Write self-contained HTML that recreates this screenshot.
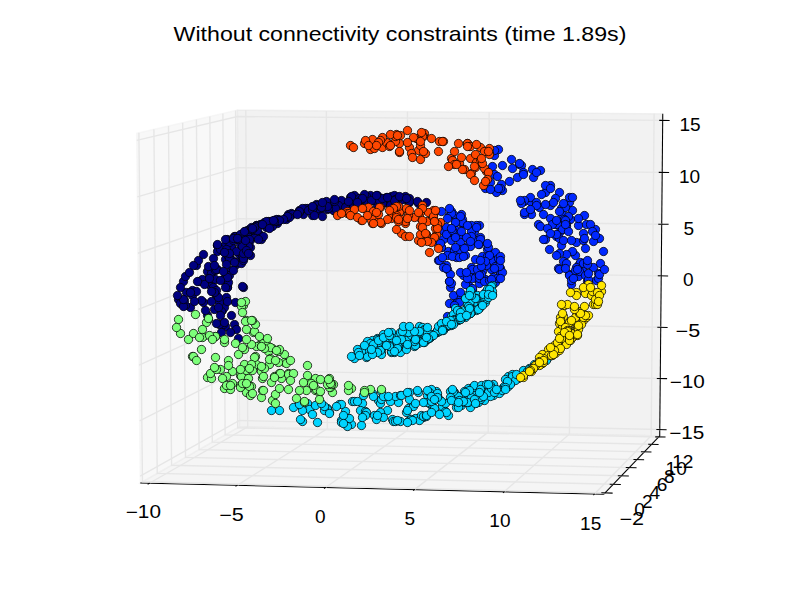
<!DOCTYPE html>
<html><head><meta charset="utf-8"><style>html,body{margin:0;padding:0;background:#fff;width:800px;height:600px;overflow:hidden}svg{display:block}</style></head><body>
<svg width="800" height="600" viewBox="0 0 800 600" font-family="Liberation Sans, sans-serif" font-size="17.6" fill="#000"><polygon points="140.27,483.05 239.47,426.77 237.40,110.12 136.66,133.27" fill="rgb(242,242,242)" fill-opacity="0.5" stroke="rgb(242,242,242)" stroke-opacity="0.5" stroke-width="1.389"/>
<polygon points="239.47,426.77 659.71,435.90 662.76,113.87 237.40,110.12" fill="rgb(230,230,230)" fill-opacity="0.5" stroke="rgb(230,230,230)" stroke-opacity="0.5" stroke-width="1.389"/>
<polygon points="140.27,483.05 603.84,494.23 659.71,435.90 239.47,426.77" fill="rgb(236,236,236)" fill-opacity="0.5" stroke="rgb(236,236,236)" stroke-opacity="0.5" stroke-width="1.389"/>
<line x1="140.27" y1="483.05" x2="603.84" y2="494.23" stroke="#000" stroke-width="1.042"/>
<polyline points="149.37,483.27 247.73,426.95 245.77,110.19" fill="none" stroke="rgb(230,230,230)" stroke-width="1.389"/>
<polyline points="237.10,485.39 327.37,428.68 326.36,110.90" fill="none" stroke="rgb(230,230,230)" stroke-width="1.389"/>
<polyline points="325.46,487.52 407.53,430.42 407.49,111.62" fill="none" stroke="rgb(230,230,230)" stroke-width="1.389"/>
<polyline points="414.46,489.67 488.21,432.17 489.15,112.34" fill="none" stroke="rgb(230,230,230)" stroke-width="1.389"/>
<polyline points="504.10,491.83 569.42,433.94 571.36,113.06" fill="none" stroke="rgb(230,230,230)" stroke-width="1.389"/>
<polyline points="594.40,494.01 651.16,435.71 654.11,113.79" fill="none" stroke="rgb(230,230,230)" stroke-width="1.389"/>
<line x1="150.24" y1="482.77" x2="147.63" y2="484.27" stroke="#000" stroke-width="1.042"/>
<line x1="237.90" y1="484.89" x2="235.50" y2="486.39" stroke="#000" stroke-width="1.042"/>
<line x1="326.18" y1="487.01" x2="324.00" y2="488.53" stroke="#000" stroke-width="1.042"/>
<line x1="415.11" y1="489.16" x2="413.15" y2="490.69" stroke="#000" stroke-width="1.042"/>
<line x1="504.68" y1="491.32" x2="502.94" y2="492.85" stroke="#000" stroke-width="1.042"/>
<line x1="594.90" y1="493.49" x2="593.39" y2="495.04" stroke="#000" stroke-width="1.042"/>
<line x1="659.71" y1="435.90" x2="603.84" y2="494.23" stroke="#000" stroke-width="1.042"/>
<polyline points="138.89,132.76 142.46,481.81 605.07,492.94" fill="none" stroke="rgb(230,230,230)" stroke-width="1.389"/>
<polyline points="153.90,129.31 157.22,473.43 613.40,484.25" fill="none" stroke="rgb(230,230,230)" stroke-width="1.389"/>
<polyline points="168.48,125.96 171.57,465.29 621.49,475.80" fill="none" stroke="rgb(230,230,230)" stroke-width="1.389"/>
<polyline points="182.65,122.70 185.52,457.38 629.35,467.60" fill="none" stroke="rgb(230,230,230)" stroke-width="1.389"/>
<polyline points="196.43,119.53 199.09,449.68 636.99,459.62" fill="none" stroke="rgb(230,230,230)" stroke-width="1.389"/>
<polyline points="209.84,116.45 212.30,442.18 644.43,451.86" fill="none" stroke="rgb(230,230,230)" stroke-width="1.389"/>
<polyline points="222.88,113.45 225.15,434.89 651.66,444.30" fill="none" stroke="rgb(230,230,230)" stroke-width="1.389"/>
<polyline points="235.58,110.54 237.67,427.79 658.70,436.96" fill="none" stroke="rgb(230,230,230)" stroke-width="1.389"/>
<line x1="601.30" y1="492.85" x2="612.62" y2="493.13" stroke="#000" stroke-width="1.042"/>
<line x1="609.68" y1="484.16" x2="620.84" y2="484.43" stroke="#000" stroke-width="1.042"/>
<line x1="617.83" y1="475.72" x2="628.82" y2="475.97" stroke="#000" stroke-width="1.042"/>
<line x1="625.74" y1="467.51" x2="636.58" y2="467.76" stroke="#000" stroke-width="1.042"/>
<line x1="633.43" y1="459.54" x2="644.13" y2="459.78" stroke="#000" stroke-width="1.042"/>
<line x1="640.91" y1="451.78" x2="651.46" y2="452.01" stroke="#000" stroke-width="1.042"/>
<line x1="648.19" y1="444.23" x2="658.60" y2="444.46" stroke="#000" stroke-width="1.042"/>
<line x1="655.27" y1="436.88" x2="665.55" y2="437.10" stroke="#000" stroke-width="1.042"/>
<line x1="659.71" y1="435.90" x2="662.76" y2="113.87" stroke="#000" stroke-width="1.042"/>
<polyline points="659.77,429.54 239.43,420.51 140.20,476.15" fill="none" stroke="rgb(230,230,230)" stroke-width="1.389"/>
<polyline points="660.25,378.51 239.10,370.33 139.63,420.77" fill="none" stroke="rgb(230,230,230)" stroke-width="1.389"/>
<polyline points="660.74,327.29 238.77,319.96 139.05,365.17" fill="none" stroke="rgb(230,230,230)" stroke-width="1.389"/>
<polyline points="661.22,275.87 238.44,269.39 138.48,309.32" fill="none" stroke="rgb(230,230,230)" stroke-width="1.389"/>
<polyline points="661.71,224.24 238.11,218.63 137.90,253.24" fill="none" stroke="rgb(230,230,230)" stroke-width="1.389"/>
<polyline points="662.20,172.42 237.78,167.68 137.32,196.92" fill="none" stroke="rgb(230,230,230)" stroke-width="1.389"/>
<polyline points="662.70,120.39 237.44,116.52 136.73,140.36" fill="none" stroke="rgb(230,230,230)" stroke-width="1.389"/>
<line x1="656.35" y1="429.46" x2="666.61" y2="429.68" stroke="#000" stroke-width="1.042"/>
<line x1="656.82" y1="378.44" x2="667.11" y2="378.64" stroke="#000" stroke-width="1.042"/>
<line x1="657.30" y1="327.23" x2="667.61" y2="327.41" stroke="#000" stroke-width="1.042"/>
<line x1="657.78" y1="275.81" x2="668.11" y2="275.97" stroke="#000" stroke-width="1.042"/>
<line x1="658.27" y1="224.20" x2="668.61" y2="224.33" stroke="#000" stroke-width="1.042"/>
<line x1="658.75" y1="172.38" x2="669.11" y2="172.49" stroke="#000" stroke-width="1.042"/>
<line x1="659.24" y1="120.36" x2="669.62" y2="120.45" stroke="#000" stroke-width="1.042"/>
<g fill="rgb(0,0,128)" stroke="#000" stroke-width="0.750"><circle cx="203.50" cy="302.50" r="4.17"/><circle cx="183.50" cy="281.50" r="4.17"/><circle cx="196.50" cy="265.50" r="4.17"/><circle cx="370.50" cy="196.50" r="4.17"/><circle cx="225.50" cy="326.50" r="4.17"/><circle cx="226.50" cy="286.50" r="4.17"/><circle cx="231.50" cy="315.50" r="4.17"/><circle cx="223.50" cy="251.50" r="4.17"/><circle cx="244.50" cy="247.50" r="4.17"/><circle cx="409.50" cy="198.50" r="4.17"/><circle cx="409.50" cy="202.50" r="4.17"/><circle cx="248.50" cy="237.50" r="4.17"/><circle cx="319.50" cy="210.50" r="4.17"/><circle cx="231.50" cy="270.50" r="4.17"/><circle cx="255.50" cy="229.50" r="4.17"/><circle cx="185.50" cy="276.50" r="4.17"/><circle cx="222.50" cy="310.50" r="4.17"/><circle cx="234.50" cy="236.50" r="4.17"/><circle cx="247.50" cy="230.50" r="4.17"/><circle cx="391.50" cy="196.50" r="4.17"/><circle cx="350.50" cy="197.50" r="4.17"/><circle cx="323.50" cy="203.50" r="4.17"/><circle cx="243.50" cy="287.50" r="4.17"/><circle cx="358.50" cy="198.50" r="4.17"/><circle cx="331.50" cy="205.50" r="4.17"/><circle cx="312.50" cy="207.50" r="4.17"/><circle cx="217.50" cy="245.50" r="4.17"/><circle cx="225.50" cy="245.50" r="4.17"/><circle cx="223.50" cy="324.50" r="4.17"/><circle cx="299.50" cy="210.50" r="4.17"/><circle cx="242.50" cy="286.50" r="4.17"/><circle cx="276.50" cy="220.50" r="4.17"/><circle cx="329.50" cy="203.50" r="4.17"/><circle cx="245.50" cy="231.50" r="4.17"/><circle cx="258.50" cy="225.50" r="4.17"/><circle cx="227.50" cy="285.50" r="4.17"/><circle cx="241.50" cy="250.50" r="4.17"/><circle cx="199.50" cy="281.50" r="4.17"/><circle cx="222.50" cy="304.50" r="4.17"/><circle cx="312.50" cy="215.50" r="4.17"/><circle cx="231.50" cy="246.50" r="4.17"/><circle cx="383.50" cy="203.50" r="4.17"/><circle cx="224.50" cy="307.50" r="4.17"/><circle cx="328.50" cy="203.50" r="4.17"/><circle cx="341.50" cy="200.50" r="4.17"/><circle cx="377.50" cy="205.50" r="4.17"/><circle cx="288.50" cy="214.50" r="4.17"/><circle cx="219.50" cy="324.50" r="4.17"/><circle cx="214.50" cy="309.50" r="4.17"/><circle cx="377.50" cy="195.50" r="4.17"/><circle cx="265.50" cy="224.50" r="4.17"/><circle cx="227.50" cy="239.50" r="4.17"/><circle cx="259.50" cy="234.50" r="4.17"/><circle cx="249.50" cy="231.50" r="4.17"/><circle cx="207.50" cy="271.50" r="4.17"/><circle cx="235.50" cy="236.50" r="4.17"/><circle cx="338.50" cy="206.50" r="4.17"/><circle cx="335.50" cy="211.50" r="4.17"/><circle cx="418.50" cy="203.50" r="4.17"/><circle cx="260.50" cy="224.50" r="4.17"/><circle cx="277.50" cy="223.50" r="4.17"/><circle cx="242.50" cy="254.50" r="4.17"/><circle cx="298.50" cy="212.50" r="4.17"/><circle cx="299.50" cy="211.50" r="4.17"/><circle cx="209.50" cy="284.50" r="4.17"/><circle cx="231.50" cy="247.50" r="4.17"/><circle cx="316.50" cy="204.50" r="4.17"/><circle cx="229.50" cy="255.50" r="4.17"/><circle cx="314.50" cy="209.50" r="4.17"/><circle cx="261.50" cy="239.50" r="4.17"/><circle cx="250.50" cy="240.50" r="4.17"/><circle cx="386.50" cy="197.50" r="4.17"/><circle cx="278.50" cy="219.50" r="4.17"/><circle cx="256.50" cy="229.50" r="4.17"/><circle cx="232.50" cy="260.50" r="4.17"/><circle cx="244.50" cy="253.50" r="4.17"/><circle cx="360.50" cy="200.50" r="4.17"/><circle cx="268.50" cy="221.50" r="4.17"/><circle cx="234.50" cy="324.50" r="4.17"/><circle cx="236.50" cy="264.50" r="4.17"/><circle cx="229.50" cy="275.50" r="4.17"/><circle cx="225.50" cy="259.50" r="4.17"/><circle cx="338.50" cy="205.50" r="4.17"/><circle cx="256.50" cy="225.50" r="4.17"/><circle cx="383.50" cy="200.50" r="4.17"/><circle cx="328.50" cy="207.50" r="4.17"/><circle cx="178.50" cy="299.50" r="4.17"/><circle cx="347.50" cy="205.50" r="4.17"/><circle cx="303.50" cy="214.50" r="4.17"/><circle cx="190.50" cy="307.50" r="4.17"/><circle cx="403.50" cy="199.50" r="4.17"/><circle cx="307.50" cy="208.50" r="4.17"/><circle cx="324.50" cy="205.50" r="4.17"/><circle cx="206.50" cy="283.50" r="4.17"/><circle cx="217.50" cy="245.50" r="4.17"/><circle cx="290.50" cy="214.50" r="4.17"/><circle cx="299.50" cy="212.50" r="4.17"/><circle cx="201.50" cy="300.50" r="4.17"/><circle cx="370.50" cy="195.50" r="4.17"/><circle cx="180.50" cy="303.50" r="4.17"/><circle cx="255.50" cy="228.50" r="4.17"/><circle cx="254.50" cy="231.50" r="4.17"/><circle cx="211.50" cy="273.50" r="4.17"/><circle cx="373.50" cy="200.50" r="4.17"/><circle cx="239.50" cy="254.50" r="4.17"/><circle cx="409.50" cy="201.50" r="4.17"/><circle cx="241.50" cy="252.50" r="4.17"/><circle cx="274.50" cy="220.50" r="4.17"/><circle cx="394.50" cy="195.50" r="4.17"/><circle cx="265.50" cy="225.50" r="4.17"/><circle cx="192.50" cy="290.50" r="4.17"/><circle cx="236.50" cy="251.50" r="4.17"/><circle cx="235.50" cy="302.50" r="4.17"/><circle cx="207.50" cy="283.50" r="4.17"/><circle cx="198.50" cy="260.50" r="4.17"/><circle cx="216.50" cy="295.50" r="4.17"/><circle cx="308.50" cy="209.50" r="4.17"/><circle cx="211.50" cy="286.50" r="4.17"/><circle cx="228.50" cy="256.50" r="4.17"/><circle cx="276.50" cy="219.50" r="4.17"/><circle cx="390.50" cy="205.50" r="4.17"/><circle cx="364.50" cy="206.50" r="4.17"/><circle cx="322.50" cy="205.50" r="4.17"/><circle cx="249.50" cy="229.50" r="4.17"/><circle cx="291.50" cy="213.50" r="4.17"/><circle cx="400.50" cy="200.50" r="4.17"/><circle cx="405.50" cy="196.50" r="4.17"/><circle cx="219.50" cy="302.50" r="4.17"/><circle cx="229.50" cy="242.50" r="4.17"/><circle cx="333.50" cy="210.50" r="4.17"/><circle cx="318.50" cy="208.50" r="4.17"/><circle cx="227.50" cy="287.50" r="4.17"/><circle cx="229.50" cy="259.50" r="4.17"/><circle cx="236.50" cy="329.50" r="4.17"/><circle cx="287.50" cy="216.50" r="4.17"/><circle cx="286.50" cy="219.50" r="4.17"/><circle cx="366.50" cy="196.50" r="4.17"/><circle cx="237.50" cy="262.50" r="4.17"/><circle cx="382.50" cy="203.50" r="4.17"/><circle cx="215.50" cy="270.50" r="4.17"/><circle cx="256.50" cy="225.50" r="4.17"/><circle cx="208.50" cy="266.50" r="4.17"/><circle cx="365.50" cy="200.50" r="4.17"/><circle cx="227.50" cy="287.50" r="4.17"/><circle cx="241.50" cy="263.50" r="4.17"/><circle cx="398.50" cy="198.50" r="4.17"/><circle cx="250.50" cy="247.50" r="4.17"/><circle cx="240.50" cy="235.50" r="4.17"/><circle cx="192.50" cy="295.50" r="4.17"/><circle cx="217.50" cy="251.50" r="4.17"/><circle cx="226.50" cy="297.50" r="4.17"/><circle cx="276.50" cy="221.50" r="4.17"/><circle cx="354.50" cy="195.50" r="4.17"/><circle cx="305.50" cy="208.50" r="4.17"/><circle cx="255.50" cy="236.50" r="4.17"/><circle cx="208.50" cy="278.50" r="4.17"/><circle cx="364.50" cy="194.50" r="4.17"/><circle cx="302.50" cy="208.50" r="4.17"/><circle cx="353.50" cy="205.50" r="4.17"/><circle cx="213.50" cy="258.50" r="4.17"/><circle cx="185.50" cy="305.50" r="4.17"/><circle cx="240.50" cy="234.50" r="4.17"/><circle cx="380.50" cy="198.50" r="4.17"/><circle cx="215.50" cy="279.50" r="4.17"/><circle cx="317.50" cy="205.50" r="4.17"/><circle cx="326.50" cy="201.50" r="4.17"/><circle cx="245.50" cy="254.50" r="4.17"/><circle cx="277.50" cy="221.50" r="4.17"/><circle cx="379.50" cy="200.50" r="4.17"/><circle cx="220.50" cy="249.50" r="4.17"/><circle cx="354.50" cy="200.50" r="4.17"/><circle cx="240.50" cy="244.50" r="4.17"/><circle cx="194.50" cy="301.50" r="4.17"/><circle cx="202.50" cy="279.50" r="4.17"/><circle cx="256.50" cy="226.50" r="4.17"/><circle cx="335.50" cy="208.50" r="4.17"/><circle cx="184.50" cy="300.50" r="4.17"/><circle cx="196.50" cy="291.50" r="4.17"/><circle cx="250.50" cy="255.50" r="4.17"/><circle cx="371.50" cy="200.50" r="4.17"/><circle cx="292.50" cy="214.50" r="4.17"/><circle cx="359.50" cy="198.50" r="4.17"/><circle cx="223.50" cy="279.50" r="4.17"/><circle cx="242.50" cy="257.50" r="4.17"/><circle cx="299.50" cy="211.50" r="4.17"/><circle cx="204.50" cy="284.50" r="4.17"/><circle cx="270.50" cy="221.50" r="4.17"/><circle cx="183.50" cy="306.50" r="4.17"/><circle cx="264.50" cy="222.50" r="4.17"/><circle cx="244.50" cy="231.50" r="4.17"/><circle cx="417.50" cy="201.50" r="4.17"/><circle cx="227.50" cy="301.50" r="4.17"/><circle cx="243.50" cy="260.50" r="4.17"/><circle cx="216.50" cy="323.50" r="4.17"/><circle cx="266.50" cy="227.50" r="4.17"/><circle cx="221.50" cy="311.50" r="4.17"/><circle cx="249.50" cy="239.50" r="4.17"/><circle cx="213.50" cy="287.50" r="4.17"/><circle cx="234.50" cy="262.50" r="4.17"/><circle cx="395.50" cy="203.50" r="4.17"/><circle cx="228.50" cy="282.50" r="4.17"/><circle cx="238.50" cy="338.50" r="4.17"/><circle cx="207.50" cy="315.50" r="4.17"/><circle cx="289.50" cy="217.50" r="4.17"/><circle cx="233.50" cy="240.50" r="4.17"/><circle cx="327.50" cy="209.50" r="4.17"/><circle cx="203.50" cy="254.50" r="4.17"/><circle cx="236.50" cy="238.50" r="4.17"/><circle cx="227.50" cy="277.50" r="4.17"/><circle cx="287.50" cy="216.50" r="4.17"/><circle cx="217.50" cy="269.50" r="4.17"/><circle cx="328.50" cy="208.50" r="4.17"/><circle cx="262.50" cy="224.50" r="4.17"/><circle cx="186.50" cy="292.50" r="4.17"/><circle cx="253.50" cy="230.50" r="4.17"/><circle cx="395.50" cy="199.50" r="4.17"/><circle cx="238.50" cy="238.50" r="4.17"/><circle cx="225.50" cy="239.50" r="4.17"/><circle cx="189.50" cy="272.50" r="4.17"/><circle cx="272.50" cy="226.50" r="4.17"/><circle cx="334.50" cy="201.50" r="4.17"/><circle cx="243.50" cy="258.50" r="4.17"/><circle cx="382.50" cy="198.50" r="4.17"/><circle cx="226.50" cy="249.50" r="4.17"/><circle cx="263.50" cy="236.50" r="4.17"/><circle cx="248.50" cy="246.50" r="4.17"/><circle cx="258.50" cy="239.50" r="4.17"/><circle cx="257.50" cy="230.50" r="4.17"/><circle cx="242.50" cy="246.50" r="4.17"/><circle cx="322.50" cy="216.50" r="4.17"/><circle cx="220.50" cy="280.50" r="4.17"/><circle cx="183.50" cy="299.50" r="4.17"/><circle cx="376.50" cy="195.50" r="4.17"/><circle cx="218.50" cy="307.50" r="4.17"/><circle cx="208.50" cy="319.50" r="4.17"/><circle cx="233.50" cy="238.50" r="4.17"/><circle cx="211.50" cy="301.50" r="4.17"/><circle cx="394.50" cy="200.50" r="4.17"/><circle cx="197.50" cy="281.50" r="4.17"/><circle cx="266.50" cy="221.50" r="4.17"/><circle cx="238.50" cy="239.50" r="4.17"/><circle cx="351.50" cy="196.50" r="4.17"/><circle cx="218.50" cy="297.50" r="4.17"/><circle cx="230.50" cy="332.50" r="4.17"/><circle cx="283.50" cy="219.50" r="4.17"/><circle cx="245.50" cy="240.50" r="4.17"/><circle cx="262.50" cy="224.50" r="4.17"/><circle cx="216.50" cy="269.50" r="4.17"/><circle cx="225.50" cy="287.50" r="4.17"/><circle cx="269.50" cy="228.50" r="4.17"/><circle cx="221.50" cy="332.50" r="4.17"/><circle cx="216.50" cy="290.50" r="4.17"/><circle cx="229.50" cy="253.50" r="4.17"/><circle cx="399.50" cy="196.50" r="4.17"/><circle cx="193.50" cy="265.50" r="4.17"/><circle cx="220.50" cy="315.50" r="4.17"/><circle cx="177.50" cy="295.50" r="4.17"/><circle cx="209.50" cy="278.50" r="4.17"/><circle cx="214.50" cy="292.50" r="4.17"/><circle cx="243.50" cy="253.50" r="4.17"/><circle cx="345.50" cy="207.50" r="4.17"/><circle cx="361.50" cy="199.50" r="4.17"/><circle cx="226.50" cy="264.50" r="4.17"/><circle cx="362.50" cy="198.50" r="4.17"/><circle cx="217.50" cy="244.50" r="4.17"/><circle cx="297.50" cy="214.50" r="4.17"/><circle cx="251.50" cy="227.50" r="4.17"/><circle cx="246.50" cy="250.50" r="4.17"/><circle cx="308.50" cy="210.50" r="4.17"/><circle cx="327.50" cy="206.50" r="4.17"/><circle cx="279.50" cy="220.50" r="4.17"/><circle cx="313.50" cy="207.50" r="4.17"/><circle cx="254.50" cy="227.50" r="4.17"/><circle cx="223.50" cy="271.50" r="4.17"/><circle cx="387.50" cy="197.50" r="4.17"/><circle cx="252.50" cy="229.50" r="4.17"/><circle cx="205.50" cy="310.50" r="4.17"/><circle cx="321.50" cy="207.50" r="4.17"/><circle cx="248.50" cy="253.50" r="4.17"/><circle cx="214.50" cy="265.50" r="4.17"/><circle cx="274.50" cy="221.50" r="4.17"/><circle cx="312.50" cy="209.50" r="4.17"/><circle cx="252.50" cy="228.50" r="4.17"/><circle cx="348.50" cy="201.50" r="4.17"/><circle cx="406.50" cy="198.50" r="4.17"/><circle cx="211.50" cy="291.50" r="4.17"/><circle cx="334.50" cy="199.50" r="4.17"/><circle cx="314.50" cy="215.50" r="4.17"/><circle cx="180.50" cy="287.50" r="4.17"/><circle cx="190.50" cy="292.50" r="4.17"/><circle cx="273.50" cy="220.50" r="4.17"/><circle cx="322.50" cy="202.50" r="4.17"/><circle cx="237.50" cy="238.50" r="4.17"/><circle cx="312.50" cy="206.50" r="4.17"/><circle cx="357.50" cy="202.50" r="4.17"/><circle cx="224.50" cy="252.50" r="4.17"/><circle cx="233.50" cy="270.50" r="4.17"/><circle cx="426.50" cy="202.50" r="4.17"/><circle cx="224.50" cy="322.50" r="4.17"/></g>
<g fill="rgb(0,40,255)" stroke="#000" stroke-width="0.750"><circle cx="569.50" cy="274.50" r="4.17"/><circle cx="463.50" cy="275.50" r="4.17"/><circle cx="482.50" cy="261.50" r="4.17"/><circle cx="438.50" cy="260.50" r="4.17"/><circle cx="479.50" cy="239.50" r="4.17"/><circle cx="545.50" cy="192.50" r="4.17"/><circle cx="539.50" cy="207.50" r="4.17"/><circle cx="442.50" cy="230.50" r="4.17"/><circle cx="485.50" cy="279.50" r="4.17"/><circle cx="582.50" cy="270.50" r="4.17"/><circle cx="482.50" cy="263.50" r="4.17"/><circle cx="448.50" cy="251.50" r="4.17"/><circle cx="462.50" cy="223.50" r="4.17"/><circle cx="456.50" cy="297.50" r="4.17"/><circle cx="483.50" cy="257.50" r="4.17"/><circle cx="524.50" cy="201.50" r="4.17"/><circle cx="476.50" cy="278.50" r="4.17"/><circle cx="519.50" cy="164.50" r="4.17"/><circle cx="543.50" cy="214.50" r="4.17"/><circle cx="441.50" cy="247.50" r="4.17"/><circle cx="449.50" cy="303.50" r="4.17"/><circle cx="500.50" cy="268.50" r="4.17"/><circle cx="561.50" cy="222.50" r="4.17"/><circle cx="450.50" cy="287.50" r="4.17"/><circle cx="479.50" cy="225.50" r="4.17"/><circle cx="495.50" cy="255.50" r="4.17"/><circle cx="494.50" cy="174.50" r="4.17"/><circle cx="439.50" cy="260.50" r="4.17"/><circle cx="596.50" cy="280.50" r="4.17"/><circle cx="579.50" cy="264.50" r="4.17"/><circle cx="570.50" cy="219.50" r="4.17"/><circle cx="575.50" cy="255.50" r="4.17"/><circle cx="530.50" cy="201.50" r="4.17"/><circle cx="587.50" cy="281.50" r="4.17"/><circle cx="482.50" cy="256.50" r="4.17"/><circle cx="491.50" cy="269.50" r="4.17"/><circle cx="458.50" cy="235.50" r="4.17"/><circle cx="461.50" cy="222.50" r="4.17"/><circle cx="560.50" cy="231.50" r="4.17"/><circle cx="494.50" cy="259.50" r="4.17"/><circle cx="474.50" cy="231.50" r="4.17"/><circle cx="561.50" cy="208.50" r="4.17"/><circle cx="569.50" cy="202.50" r="4.17"/><circle cx="572.50" cy="251.50" r="4.17"/><circle cx="475.50" cy="276.50" r="4.17"/><circle cx="494.50" cy="155.50" r="4.17"/><circle cx="456.50" cy="257.50" r="4.17"/><circle cx="451.50" cy="211.50" r="4.17"/><circle cx="541.50" cy="194.50" r="4.17"/><circle cx="556.50" cy="236.50" r="4.17"/><circle cx="572.50" cy="210.50" r="4.17"/><circle cx="530.50" cy="197.50" r="4.17"/><circle cx="472.50" cy="278.50" r="4.17"/><circle cx="502.50" cy="190.50" r="4.17"/><circle cx="538.50" cy="224.50" r="4.17"/><circle cx="555.50" cy="224.50" r="4.17"/><circle cx="532.50" cy="169.50" r="4.17"/><circle cx="595.50" cy="229.50" r="4.17"/><circle cx="462.50" cy="219.50" r="4.17"/><circle cx="494.50" cy="280.50" r="4.17"/><circle cx="490.50" cy="254.50" r="4.17"/><circle cx="599.50" cy="238.50" r="4.17"/><circle cx="578.50" cy="225.50" r="4.17"/><circle cx="521.50" cy="165.50" r="4.17"/><circle cx="453.50" cy="236.50" r="4.17"/><circle cx="586.50" cy="224.50" r="4.17"/><circle cx="449.50" cy="281.50" r="4.17"/><circle cx="545.50" cy="239.50" r="4.17"/><circle cx="566.50" cy="254.50" r="4.17"/><circle cx="598.50" cy="273.50" r="4.17"/><circle cx="561.50" cy="245.50" r="4.17"/><circle cx="462.50" cy="237.50" r="4.17"/><circle cx="447.50" cy="269.50" r="4.17"/><circle cx="558.50" cy="268.50" r="4.17"/><circle cx="499.50" cy="270.50" r="4.17"/><circle cx="451.50" cy="283.50" r="4.17"/><circle cx="485.50" cy="188.50" r="4.17"/><circle cx="476.50" cy="225.50" r="4.17"/><circle cx="509.50" cy="181.50" r="4.17"/><circle cx="530.50" cy="212.50" r="4.17"/><circle cx="500.50" cy="274.50" r="4.17"/><circle cx="562.50" cy="214.50" r="4.17"/><circle cx="580.50" cy="262.50" r="4.17"/><circle cx="455.50" cy="222.50" r="4.17"/><circle cx="449.50" cy="215.50" r="4.17"/><circle cx="566.50" cy="224.50" r="4.17"/><circle cx="495.50" cy="282.50" r="4.17"/><circle cx="460.50" cy="272.50" r="4.17"/><circle cx="454.50" cy="250.50" r="4.17"/><circle cx="568.50" cy="216.50" r="4.17"/><circle cx="479.50" cy="283.50" r="4.17"/><circle cx="457.50" cy="302.50" r="4.17"/><circle cx="471.50" cy="225.50" r="4.17"/><circle cx="584.50" cy="215.50" r="4.17"/><circle cx="491.50" cy="282.50" r="4.17"/><circle cx="450.50" cy="274.50" r="4.17"/><circle cx="559.50" cy="192.50" r="4.17"/><circle cx="479.50" cy="244.50" r="4.17"/><circle cx="487.50" cy="249.50" r="4.17"/><circle cx="583.50" cy="233.50" r="4.17"/><circle cx="456.50" cy="230.50" r="4.17"/><circle cx="468.50" cy="273.50" r="4.17"/><circle cx="441.50" cy="247.50" r="4.17"/><circle cx="498.50" cy="149.50" r="4.17"/><circle cx="447.50" cy="255.50" r="4.17"/><circle cx="524.50" cy="200.50" r="4.17"/><circle cx="469.50" cy="286.50" r="4.17"/><circle cx="455.50" cy="304.50" r="4.17"/><circle cx="480.50" cy="237.50" r="4.17"/><circle cx="490.50" cy="182.50" r="4.17"/><circle cx="465.50" cy="255.50" r="4.17"/><circle cx="540.50" cy="226.50" r="4.17"/><circle cx="497.50" cy="176.50" r="4.17"/><circle cx="487.50" cy="256.50" r="4.17"/><circle cx="453.50" cy="214.50" r="4.17"/><circle cx="550.50" cy="205.50" r="4.17"/><circle cx="576.50" cy="242.50" r="4.17"/><circle cx="523.50" cy="172.50" r="4.17"/><circle cx="566.50" cy="226.50" r="4.17"/><circle cx="585.50" cy="248.50" r="4.17"/><circle cx="451.50" cy="213.50" r="4.17"/><circle cx="588.50" cy="282.50" r="4.17"/><circle cx="472.50" cy="289.50" r="4.17"/><circle cx="461.50" cy="214.50" r="4.17"/><circle cx="482.50" cy="271.50" r="4.17"/><circle cx="557.50" cy="224.50" r="4.17"/><circle cx="578.50" cy="276.50" r="4.17"/><circle cx="563.50" cy="261.50" r="4.17"/><circle cx="562.50" cy="229.50" r="4.17"/><circle cx="441.50" cy="211.50" r="4.17"/><circle cx="491.50" cy="260.50" r="4.17"/><circle cx="536.50" cy="202.50" r="4.17"/><circle cx="471.50" cy="231.50" r="4.17"/><circle cx="475.50" cy="240.50" r="4.17"/><circle cx="559.50" cy="238.50" r="4.17"/><circle cx="593.50" cy="267.50" r="4.17"/><circle cx="577.50" cy="268.50" r="4.17"/><circle cx="566.50" cy="263.50" r="4.17"/><circle cx="536.50" cy="205.50" r="4.17"/><circle cx="533.50" cy="177.50" r="4.17"/><circle cx="488.50" cy="247.50" r="4.17"/><circle cx="457.50" cy="297.50" r="4.17"/><circle cx="472.50" cy="288.50" r="4.17"/><circle cx="443.50" cy="239.50" r="4.17"/><circle cx="568.50" cy="231.50" r="4.17"/><circle cx="479.50" cy="278.50" r="4.17"/><circle cx="559.50" cy="269.50" r="4.17"/><circle cx="480.50" cy="239.50" r="4.17"/><circle cx="462.50" cy="222.50" r="4.17"/><circle cx="486.50" cy="265.50" r="4.17"/><circle cx="571.50" cy="284.50" r="4.17"/><circle cx="481.50" cy="274.50" r="4.17"/><circle cx="495.50" cy="252.50" r="4.17"/><circle cx="550.50" cy="218.50" r="4.17"/><circle cx="498.50" cy="258.50" r="4.17"/><circle cx="452.50" cy="256.50" r="4.17"/><circle cx="460.50" cy="216.50" r="4.17"/><circle cx="500.50" cy="256.50" r="4.17"/><circle cx="598.50" cy="278.50" r="4.17"/><circle cx="552.50" cy="224.50" r="4.17"/><circle cx="565.50" cy="207.50" r="4.17"/><circle cx="459.50" cy="257.50" r="4.17"/><circle cx="576.50" cy="267.50" r="4.17"/><circle cx="493.50" cy="277.50" r="4.17"/><circle cx="543.50" cy="239.50" r="4.17"/><circle cx="496.50" cy="191.50" r="4.17"/><circle cx="447.50" cy="218.50" r="4.17"/><circle cx="495.50" cy="266.50" r="4.17"/><circle cx="569.50" cy="275.50" r="4.17"/><circle cx="471.50" cy="267.50" r="4.17"/><circle cx="438.50" cy="244.50" r="4.17"/><circle cx="579.50" cy="271.50" r="4.17"/><circle cx="519.50" cy="163.50" r="4.17"/><circle cx="521.50" cy="203.50" r="4.17"/><circle cx="585.50" cy="275.50" r="4.17"/><circle cx="588.50" cy="279.50" r="4.17"/><circle cx="465.50" cy="284.50" r="4.17"/><circle cx="440.50" cy="243.50" r="4.17"/><circle cx="492.50" cy="166.50" r="4.17"/><circle cx="531.50" cy="214.50" r="4.17"/><circle cx="478.50" cy="244.50" r="4.17"/><circle cx="590.50" cy="224.50" r="4.17"/><circle cx="502.50" cy="272.50" r="4.17"/><circle cx="489.50" cy="255.50" r="4.17"/><circle cx="575.50" cy="270.50" r="4.17"/><circle cx="447.50" cy="234.50" r="4.17"/><circle cx="484.50" cy="281.50" r="4.17"/><circle cx="467.50" cy="278.50" r="4.17"/><circle cx="501.50" cy="184.50" r="4.17"/><circle cx="583.50" cy="263.50" r="4.17"/><circle cx="485.50" cy="261.50" r="4.17"/><circle cx="578.50" cy="218.50" r="4.17"/><circle cx="496.50" cy="192.50" r="4.17"/><circle cx="571.50" cy="280.50" r="4.17"/><circle cx="563.50" cy="203.50" r="4.17"/><circle cx="559.50" cy="253.50" r="4.17"/><circle cx="549.50" cy="249.50" r="4.17"/><circle cx="446.50" cy="265.50" r="4.17"/><circle cx="559.50" cy="211.50" r="4.17"/><circle cx="511.50" cy="159.50" r="4.17"/><circle cx="517.50" cy="177.50" r="4.17"/><circle cx="471.50" cy="236.50" r="4.17"/><circle cx="446.50" cy="227.50" r="4.17"/><circle cx="583.50" cy="240.50" r="4.17"/><circle cx="550.50" cy="185.50" r="4.17"/><circle cx="446.50" cy="234.50" r="4.17"/><circle cx="478.50" cy="271.50" r="4.17"/><circle cx="499.50" cy="266.50" r="4.17"/><circle cx="472.50" cy="269.50" r="4.17"/><circle cx="452.50" cy="230.50" r="4.17"/><circle cx="512.50" cy="168.50" r="4.17"/><circle cx="500.50" cy="188.50" r="4.17"/><circle cx="497.50" cy="278.50" r="4.17"/><circle cx="500.50" cy="260.50" r="4.17"/><circle cx="592.50" cy="231.50" r="4.17"/><circle cx="545.50" cy="185.50" r="4.17"/><circle cx="475.50" cy="259.50" r="4.17"/><circle cx="498.50" cy="188.50" r="4.17"/><circle cx="573.50" cy="278.50" r="4.17"/><circle cx="584.50" cy="238.50" r="4.17"/><circle cx="489.50" cy="280.50" r="4.17"/><circle cx="460.50" cy="242.50" r="4.17"/><circle cx="447.50" cy="316.50" r="4.17"/><circle cx="443.50" cy="267.50" r="4.17"/><circle cx="556.50" cy="255.50" r="4.17"/><circle cx="524.50" cy="214.50" r="4.17"/><circle cx="451.50" cy="240.50" r="4.17"/><circle cx="569.50" cy="197.50" r="4.17"/><circle cx="545.50" cy="204.50" r="4.17"/><circle cx="593.50" cy="241.50" r="4.17"/><circle cx="540.50" cy="170.50" r="4.17"/><circle cx="524.50" cy="212.50" r="4.17"/><circle cx="565.50" cy="268.50" r="4.17"/><circle cx="455.50" cy="222.50" r="4.17"/><circle cx="603.50" cy="251.50" r="4.17"/><circle cx="572.50" cy="197.50" r="4.17"/><circle cx="457.50" cy="302.50" r="4.17"/><circle cx="466.50" cy="237.50" r="4.17"/><circle cx="490.50" cy="189.50" r="4.17"/><circle cx="577.50" cy="269.50" r="4.17"/><circle cx="477.50" cy="269.50" r="4.17"/><circle cx="595.50" cy="235.50" r="4.17"/><circle cx="449.50" cy="281.50" r="4.17"/><circle cx="563.50" cy="240.50" r="4.17"/><circle cx="451.50" cy="228.50" r="4.17"/><circle cx="467.50" cy="246.50" r="4.17"/><circle cx="556.50" cy="220.50" r="4.17"/><circle cx="599.50" cy="274.50" r="4.17"/><circle cx="459.50" cy="249.50" r="4.17"/><circle cx="564.50" cy="219.50" r="4.17"/><circle cx="556.50" cy="234.50" r="4.17"/><circle cx="467.50" cy="225.50" r="4.17"/><circle cx="479.50" cy="275.50" r="4.17"/><circle cx="500.50" cy="278.50" r="4.17"/><circle cx="547.50" cy="228.50" r="4.17"/><circle cx="470.50" cy="246.50" r="4.17"/><circle cx="466.50" cy="272.50" r="4.17"/><circle cx="520.50" cy="200.50" r="4.17"/><circle cx="470.50" cy="241.50" r="4.17"/><circle cx="481.50" cy="266.50" r="4.17"/><circle cx="459.50" cy="302.50" r="4.17"/><circle cx="565.50" cy="220.50" r="4.17"/><circle cx="494.50" cy="150.50" r="4.17"/><circle cx="588.50" cy="273.50" r="4.17"/><circle cx="550.50" cy="233.50" r="4.17"/><circle cx="502.50" cy="165.50" r="4.17"/><circle cx="587.50" cy="264.50" r="4.17"/><circle cx="536.50" cy="172.50" r="4.17"/><circle cx="550.50" cy="188.50" r="4.17"/><circle cx="491.50" cy="279.50" r="4.17"/><circle cx="555.50" cy="198.50" r="4.17"/><circle cx="454.50" cy="305.50" r="4.17"/><circle cx="494.50" cy="268.50" r="4.17"/><circle cx="553.50" cy="202.50" r="4.17"/><circle cx="455.50" cy="247.50" r="4.17"/><circle cx="449.50" cy="208.50" r="4.17"/><circle cx="565.50" cy="224.50" r="4.17"/><circle cx="476.50" cy="227.50" r="4.17"/><circle cx="600.50" cy="263.50" r="4.17"/><circle cx="604.50" cy="269.50" r="4.17"/><circle cx="587.50" cy="260.50" r="4.17"/><circle cx="487.50" cy="243.50" r="4.17"/><circle cx="523.50" cy="174.50" r="4.17"/><circle cx="461.50" cy="231.50" r="4.17"/><circle cx="453.50" cy="295.50" r="4.17"/><circle cx="530.50" cy="209.50" r="4.17"/><circle cx="460.50" cy="292.50" r="4.17"/><circle cx="446.50" cy="268.50" r="4.17"/><circle cx="455.50" cy="237.50" r="4.17"/><circle cx="463.50" cy="256.50" r="4.17"/><circle cx="571.50" cy="240.50" r="4.17"/><circle cx="442.50" cy="257.50" r="4.17"/><circle cx="480.50" cy="260.50" r="4.17"/><circle cx="464.50" cy="248.50" r="4.17"/></g>
<g fill="rgb(0,212,255)" stroke="#000" stroke-width="0.750"><circle cx="387.50" cy="410.50" r="4.17"/><circle cx="428.50" cy="334.50" r="4.17"/><circle cx="327.50" cy="408.50" r="4.17"/><circle cx="466.50" cy="397.50" r="4.17"/><circle cx="449.50" cy="322.50" r="4.17"/><circle cx="477.50" cy="303.50" r="4.17"/><circle cx="454.50" cy="392.50" r="4.17"/><circle cx="440.50" cy="327.50" r="4.17"/><circle cx="472.50" cy="298.50" r="4.17"/><circle cx="456.50" cy="397.50" r="4.17"/><circle cx="428.50" cy="336.50" r="4.17"/><circle cx="456.50" cy="312.50" r="4.17"/><circle cx="430.50" cy="337.50" r="4.17"/><circle cx="447.50" cy="326.50" r="4.17"/><circle cx="399.50" cy="348.50" r="4.17"/><circle cx="523.50" cy="374.50" r="4.17"/><circle cx="394.50" cy="352.50" r="4.17"/><circle cx="393.50" cy="420.50" r="4.17"/><circle cx="401.50" cy="333.50" r="4.17"/><circle cx="307.50" cy="403.50" r="4.17"/><circle cx="423.50" cy="417.50" r="4.17"/><circle cx="466.50" cy="310.50" r="4.17"/><circle cx="357.50" cy="355.50" r="4.17"/><circle cx="424.50" cy="342.50" r="4.17"/><circle cx="371.50" cy="343.50" r="4.17"/><circle cx="436.50" cy="332.50" r="4.17"/><circle cx="494.50" cy="393.50" r="4.17"/><circle cx="436.50" cy="391.50" r="4.17"/><circle cx="419.50" cy="326.50" r="4.17"/><circle cx="429.50" cy="392.50" r="4.17"/><circle cx="449.50" cy="324.50" r="4.17"/><circle cx="432.50" cy="406.50" r="4.17"/><circle cx="329.50" cy="412.50" r="4.17"/><circle cx="444.50" cy="323.50" r="4.17"/><circle cx="476.50" cy="296.50" r="4.17"/><circle cx="377.50" cy="338.50" r="4.17"/><circle cx="452.50" cy="321.50" r="4.17"/><circle cx="431.50" cy="334.50" r="4.17"/><circle cx="374.50" cy="415.50" r="4.17"/><circle cx="484.50" cy="400.50" r="4.17"/><circle cx="529.50" cy="371.50" r="4.17"/><circle cx="459.50" cy="315.50" r="4.17"/><circle cx="396.50" cy="336.50" r="4.17"/><circle cx="397.50" cy="336.50" r="4.17"/><circle cx="348.50" cy="418.50" r="4.17"/><circle cx="388.50" cy="337.50" r="4.17"/><circle cx="461.50" cy="317.50" r="4.17"/><circle cx="452.50" cy="320.50" r="4.17"/><circle cx="341.50" cy="420.50" r="4.17"/><circle cx="418.50" cy="343.50" r="4.17"/><circle cx="400.50" cy="345.50" r="4.17"/><circle cx="302.50" cy="421.50" r="4.17"/><circle cx="471.50" cy="292.50" r="4.17"/><circle cx="424.50" cy="331.50" r="4.17"/><circle cx="488.50" cy="293.50" r="4.17"/><circle cx="451.50" cy="316.50" r="4.17"/><circle cx="508.50" cy="376.50" r="4.17"/><circle cx="442.50" cy="327.50" r="4.17"/><circle cx="476.50" cy="391.50" r="4.17"/><circle cx="547.50" cy="358.50" r="4.17"/><circle cx="512.50" cy="374.50" r="4.17"/><circle cx="439.50" cy="330.50" r="4.17"/><circle cx="430.50" cy="337.50" r="4.17"/><circle cx="458.50" cy="396.50" r="4.17"/><circle cx="362.50" cy="403.50" r="4.17"/><circle cx="381.50" cy="391.50" r="4.17"/><circle cx="485.50" cy="302.50" r="4.17"/><circle cx="470.50" cy="313.50" r="4.17"/><circle cx="448.50" cy="415.50" r="4.17"/><circle cx="442.50" cy="406.50" r="4.17"/><circle cx="360.50" cy="410.50" r="4.17"/><circle cx="505.50" cy="379.50" r="4.17"/><circle cx="408.50" cy="408.50" r="4.17"/><circle cx="468.50" cy="388.50" r="4.17"/><circle cx="422.50" cy="327.50" r="4.17"/><circle cx="450.50" cy="325.50" r="4.17"/><circle cx="477.50" cy="402.50" r="4.17"/><circle cx="442.50" cy="329.50" r="4.17"/><circle cx="447.50" cy="321.50" r="4.17"/><circle cx="483.50" cy="394.50" r="4.17"/><circle cx="279.50" cy="410.50" r="4.17"/><circle cx="344.50" cy="415.50" r="4.17"/><circle cx="406.50" cy="412.50" r="4.17"/><circle cx="398.50" cy="402.50" r="4.17"/><circle cx="518.50" cy="378.50" r="4.17"/><circle cx="415.50" cy="418.50" r="4.17"/><circle cx="477.50" cy="399.50" r="4.17"/><circle cx="468.50" cy="304.50" r="4.17"/><circle cx="372.50" cy="340.50" r="4.17"/><circle cx="409.50" cy="337.50" r="4.17"/><circle cx="473.50" cy="387.50" r="4.17"/><circle cx="455.50" cy="308.50" r="4.17"/><circle cx="508.50" cy="386.50" r="4.17"/><circle cx="413.50" cy="406.50" r="4.17"/><circle cx="456.50" cy="407.50" r="4.17"/><circle cx="390.50" cy="401.50" r="4.17"/><circle cx="486.50" cy="385.50" r="4.17"/><circle cx="361.50" cy="349.50" r="4.17"/><circle cx="429.50" cy="403.50" r="4.17"/><circle cx="465.50" cy="317.50" r="4.17"/><circle cx="512.50" cy="381.50" r="4.17"/><circle cx="478.50" cy="402.50" r="4.17"/><circle cx="445.50" cy="403.50" r="4.17"/><circle cx="460.50" cy="311.50" r="4.17"/><circle cx="375.50" cy="345.50" r="4.17"/><circle cx="467.50" cy="304.50" r="4.17"/><circle cx="437.50" cy="332.50" r="4.17"/><circle cx="510.50" cy="383.50" r="4.17"/><circle cx="458.50" cy="320.50" r="4.17"/><circle cx="391.50" cy="352.50" r="4.17"/><circle cx="366.50" cy="357.50" r="4.17"/><circle cx="512.50" cy="376.50" r="4.17"/><circle cx="327.50" cy="409.50" r="4.17"/><circle cx="485.50" cy="295.50" r="4.17"/><circle cx="324.50" cy="410.50" r="4.17"/><circle cx="364.50" cy="352.50" r="4.17"/><circle cx="469.50" cy="311.50" r="4.17"/><circle cx="339.50" cy="404.50" r="4.17"/><circle cx="429.50" cy="338.50" r="4.17"/><circle cx="454.50" cy="322.50" r="4.17"/><circle cx="493.50" cy="395.50" r="4.17"/><circle cx="464.50" cy="391.50" r="4.17"/><circle cx="414.50" cy="343.50" r="4.17"/><circle cx="480.50" cy="305.50" r="4.17"/><circle cx="515.50" cy="380.50" r="4.17"/><circle cx="365.50" cy="411.50" r="4.17"/><circle cx="485.50" cy="292.50" r="4.17"/><circle cx="471.50" cy="399.50" r="4.17"/><circle cx="392.50" cy="419.50" r="4.17"/><circle cx="554.50" cy="353.50" r="4.17"/><circle cx="477.50" cy="295.50" r="4.17"/><circle cx="445.50" cy="411.50" r="4.17"/><circle cx="453.50" cy="321.50" r="4.17"/><circle cx="406.50" cy="330.50" r="4.17"/><circle cx="478.50" cy="305.50" r="4.17"/><circle cx="391.50" cy="351.50" r="4.17"/><circle cx="357.50" cy="354.50" r="4.17"/><circle cx="477.50" cy="304.50" r="4.17"/><circle cx="483.50" cy="395.50" r="4.17"/><circle cx="474.50" cy="385.50" r="4.17"/><circle cx="345.50" cy="411.50" r="4.17"/><circle cx="461.50" cy="318.50" r="4.17"/><circle cx="309.50" cy="409.50" r="4.17"/><circle cx="427.50" cy="395.50" r="4.17"/><circle cx="486.50" cy="299.50" r="4.17"/><circle cx="492.50" cy="294.50" r="4.17"/><circle cx="490.50" cy="396.50" r="4.17"/><circle cx="425.50" cy="333.50" r="4.17"/><circle cx="406.50" cy="347.50" r="4.17"/><circle cx="427.50" cy="402.50" r="4.17"/><circle cx="468.50" cy="314.50" r="4.17"/><circle cx="434.50" cy="408.50" r="4.17"/><circle cx="461.50" cy="315.50" r="4.17"/><circle cx="393.50" cy="347.50" r="4.17"/><circle cx="492.50" cy="285.50" r="4.17"/><circle cx="545.50" cy="359.50" r="4.17"/><circle cx="440.50" cy="400.50" r="4.17"/><circle cx="455.50" cy="401.50" r="4.17"/><circle cx="414.50" cy="339.50" r="4.17"/><circle cx="461.50" cy="318.50" r="4.17"/><circle cx="418.50" cy="392.50" r="4.17"/><circle cx="406.50" cy="338.50" r="4.17"/><circle cx="470.50" cy="313.50" r="4.17"/><circle cx="408.50" cy="421.50" r="4.17"/><circle cx="411.50" cy="342.50" r="4.17"/><circle cx="376.50" cy="342.50" r="4.17"/><circle cx="510.50" cy="384.50" r="4.17"/><circle cx="475.50" cy="403.50" r="4.17"/><circle cx="459.50" cy="319.50" r="4.17"/><circle cx="446.50" cy="412.50" r="4.17"/><circle cx="441.50" cy="401.50" r="4.17"/><circle cx="442.50" cy="326.50" r="4.17"/><circle cx="483.50" cy="299.50" r="4.17"/><circle cx="450.50" cy="391.50" r="4.17"/><circle cx="424.50" cy="329.50" r="4.17"/><circle cx="503.50" cy="387.50" r="4.17"/><circle cx="451.50" cy="325.50" r="4.17"/><circle cx="481.50" cy="385.50" r="4.17"/><circle cx="493.50" cy="384.50" r="4.17"/><circle cx="469.50" cy="396.50" r="4.17"/><circle cx="490.50" cy="385.50" r="4.17"/><circle cx="486.50" cy="384.50" r="4.17"/><circle cx="378.50" cy="400.50" r="4.17"/><circle cx="437.50" cy="395.50" r="4.17"/><circle cx="423.50" cy="337.50" r="4.17"/><circle cx="480.50" cy="399.50" r="4.17"/><circle cx="352.50" cy="401.50" r="4.17"/><circle cx="381.50" cy="351.50" r="4.17"/><circle cx="385.50" cy="345.50" r="4.17"/><circle cx="380.50" cy="403.50" r="4.17"/><circle cx="444.50" cy="328.50" r="4.17"/><circle cx="444.50" cy="327.50" r="4.17"/><circle cx="534.50" cy="364.50" r="4.17"/><circle cx="302.50" cy="410.50" r="4.17"/><circle cx="453.50" cy="314.50" r="4.17"/><circle cx="469.50" cy="399.50" r="4.17"/><circle cx="400.50" cy="352.50" r="4.17"/><circle cx="428.50" cy="338.50" r="4.17"/><circle cx="410.50" cy="330.50" r="4.17"/><circle cx="317.50" cy="422.50" r="4.17"/><circle cx="470.50" cy="407.50" r="4.17"/><circle cx="488.50" cy="392.50" r="4.17"/><circle cx="466.50" cy="312.50" r="4.17"/><circle cx="499.50" cy="393.50" r="4.17"/><circle cx="477.50" cy="304.50" r="4.17"/><circle cx="423.50" cy="402.50" r="4.17"/><circle cx="431.50" cy="389.50" r="4.17"/><circle cx="406.50" cy="346.50" r="4.17"/><circle cx="312.50" cy="414.50" r="4.17"/><circle cx="397.50" cy="348.50" r="4.17"/><circle cx="417.50" cy="390.50" r="4.17"/><circle cx="381.50" cy="399.50" r="4.17"/><circle cx="477.50" cy="302.50" r="4.17"/><circle cx="472.50" cy="310.50" r="4.17"/><circle cx="436.50" cy="332.50" r="4.17"/><circle cx="351.50" cy="424.50" r="4.17"/><circle cx="429.50" cy="392.50" r="4.17"/><circle cx="432.50" cy="397.50" r="4.17"/><circle cx="427.50" cy="390.50" r="4.17"/><circle cx="487.50" cy="289.50" r="4.17"/><circle cx="546.50" cy="360.50" r="4.17"/><circle cx="439.50" cy="331.50" r="4.17"/><circle cx="366.50" cy="412.50" r="4.17"/><circle cx="439.50" cy="329.50" r="4.17"/><circle cx="391.50" cy="332.50" r="4.17"/><circle cx="393.50" cy="421.50" r="4.17"/><circle cx="395.50" cy="396.50" r="4.17"/><circle cx="476.50" cy="310.50" r="4.17"/><circle cx="406.50" cy="340.50" r="4.17"/><circle cx="453.50" cy="391.50" r="4.17"/><circle cx="418.50" cy="333.50" r="4.17"/><circle cx="480.50" cy="389.50" r="4.17"/><circle cx="392.50" cy="344.50" r="4.17"/><circle cx="460.50" cy="319.50" r="4.17"/><circle cx="395.50" cy="421.50" r="4.17"/><circle cx="465.50" cy="312.50" r="4.17"/><circle cx="419.50" cy="420.50" r="4.17"/><circle cx="441.50" cy="327.50" r="4.17"/><circle cx="329.50" cy="413.50" r="4.17"/><circle cx="470.50" cy="301.50" r="4.17"/><circle cx="397.50" cy="343.50" r="4.17"/><circle cx="380.50" cy="412.50" r="4.17"/><circle cx="446.50" cy="326.50" r="4.17"/><circle cx="504.50" cy="386.50" r="4.17"/><circle cx="450.50" cy="397.50" r="4.17"/><circle cx="423.50" cy="336.50" r="4.17"/><circle cx="411.50" cy="335.50" r="4.17"/><circle cx="491.50" cy="286.50" r="4.17"/><circle cx="416.50" cy="338.50" r="4.17"/><circle cx="468.50" cy="402.50" r="4.17"/><circle cx="383.50" cy="417.50" r="4.17"/><circle cx="381.50" cy="354.50" r="4.17"/><circle cx="407.50" cy="410.50" r="4.17"/><circle cx="461.50" cy="405.50" r="4.17"/><circle cx="271.50" cy="410.50" r="4.17"/><circle cx="421.50" cy="415.50" r="4.17"/><circle cx="293.50" cy="407.50" r="4.17"/><circle cx="367.50" cy="341.50" r="4.17"/><circle cx="424.50" cy="338.50" r="4.17"/><circle cx="446.50" cy="324.50" r="4.17"/><circle cx="414.50" cy="346.50" r="4.17"/><circle cx="397.50" cy="348.50" r="4.17"/><circle cx="416.50" cy="341.50" r="4.17"/><circle cx="423.50" cy="416.50" r="4.17"/><circle cx="418.50" cy="341.50" r="4.17"/><circle cx="386.50" cy="341.50" r="4.17"/><circle cx="380.50" cy="350.50" r="4.17"/><circle cx="411.50" cy="419.50" r="4.17"/><circle cx="520.50" cy="375.50" r="4.17"/><circle cx="400.50" cy="421.50" r="4.17"/><circle cx="484.50" cy="296.50" r="4.17"/><circle cx="468.50" cy="309.50" r="4.17"/><circle cx="472.50" cy="310.50" r="4.17"/><circle cx="377.50" cy="339.50" r="4.17"/><circle cx="426.50" cy="416.50" r="4.17"/><circle cx="492.50" cy="291.50" r="4.17"/><circle cx="450.50" cy="322.50" r="4.17"/><circle cx="454.50" cy="319.50" r="4.17"/><circle cx="456.50" cy="319.50" r="4.17"/><circle cx="365.50" cy="415.50" r="4.17"/><circle cx="475.50" cy="399.50" r="4.17"/><circle cx="476.50" cy="298.50" r="4.17"/><circle cx="400.50" cy="332.50" r="4.17"/><circle cx="392.50" cy="338.50" r="4.17"/><circle cx="409.50" cy="392.50" r="4.17"/><circle cx="507.50" cy="381.50" r="4.17"/><circle cx="437.50" cy="330.50" r="4.17"/><circle cx="347.50" cy="426.50" r="4.17"/><circle cx="409.50" cy="399.50" r="4.17"/><circle cx="358.50" cy="355.50" r="4.17"/><circle cx="480.50" cy="397.50" r="4.17"/><circle cx="438.50" cy="326.50" r="4.17"/><circle cx="341.50" cy="422.50" r="4.17"/><circle cx="383.50" cy="396.50" r="4.17"/><circle cx="354.50" cy="358.50" r="4.17"/><circle cx="389.50" cy="345.50" r="4.17"/><circle cx="415.50" cy="345.50" r="4.17"/><circle cx="483.50" cy="294.50" r="4.17"/><circle cx="447.50" cy="325.50" r="4.17"/><circle cx="389.50" cy="346.50" r="4.17"/><circle cx="400.50" cy="395.50" r="4.17"/><circle cx="483.50" cy="396.50" r="4.17"/><circle cx="437.50" cy="393.50" r="4.17"/><circle cx="341.50" cy="404.50" r="4.17"/><circle cx="324.50" cy="406.50" r="4.17"/><circle cx="367.50" cy="356.50" r="4.17"/><circle cx="315.50" cy="405.50" r="4.17"/><circle cx="300.50" cy="419.50" r="4.17"/><circle cx="408.50" cy="332.50" r="4.17"/><circle cx="441.50" cy="323.50" r="4.17"/><circle cx="481.50" cy="305.50" r="4.17"/><circle cx="475.50" cy="298.50" r="4.17"/><circle cx="424.50" cy="330.50" r="4.17"/><circle cx="463.50" cy="311.50" r="4.17"/><circle cx="454.50" cy="320.50" r="4.17"/><circle cx="382.50" cy="341.50" r="4.17"/><circle cx="488.50" cy="297.50" r="4.17"/><circle cx="364.50" cy="349.50" r="4.17"/><circle cx="471.50" cy="397.50" r="4.17"/><circle cx="460.50" cy="318.50" r="4.17"/><circle cx="386.50" cy="345.50" r="4.17"/><circle cx="529.50" cy="368.50" r="4.17"/><circle cx="351.50" cy="356.50" r="4.17"/><circle cx="431.50" cy="334.50" r="4.17"/><circle cx="415.50" cy="403.50" r="4.17"/><circle cx="479.50" cy="308.50" r="4.17"/><circle cx="426.50" cy="415.50" r="4.17"/><circle cx="361.50" cy="351.50" r="4.17"/><circle cx="425.50" cy="336.50" r="4.17"/><circle cx="471.50" cy="295.50" r="4.17"/><circle cx="394.50" cy="351.50" r="4.17"/><circle cx="427.50" cy="333.50" r="4.17"/><circle cx="464.50" cy="313.50" r="4.17"/><circle cx="357.50" cy="349.50" r="4.17"/><circle cx="520.50" cy="376.50" r="4.17"/><circle cx="462.50" cy="312.50" r="4.17"/><circle cx="471.50" cy="312.50" r="4.17"/><circle cx="299.50" cy="404.50" r="4.17"/><circle cx="470.50" cy="313.50" r="4.17"/><circle cx="363.50" cy="395.50" r="4.17"/><circle cx="431.50" cy="401.50" r="4.17"/><circle cx="450.50" cy="320.50" r="4.17"/><circle cx="431.50" cy="396.50" r="4.17"/><circle cx="349.50" cy="418.50" r="4.17"/><circle cx="502.50" cy="390.50" r="4.17"/><circle cx="401.50" cy="395.50" r="4.17"/><circle cx="457.50" cy="310.50" r="4.17"/><circle cx="377.50" cy="352.50" r="4.17"/><circle cx="372.50" cy="393.50" r="4.17"/><circle cx="460.50" cy="319.50" r="4.17"/><circle cx="354.50" cy="401.50" r="4.17"/><circle cx="459.50" cy="400.50" r="4.17"/><circle cx="415.50" cy="338.50" r="4.17"/><circle cx="453.50" cy="324.50" r="4.17"/><circle cx="443.50" cy="330.50" r="4.17"/><circle cx="463.50" cy="402.50" r="4.17"/><circle cx="407.50" cy="392.50" r="4.17"/><circle cx="491.50" cy="388.50" r="4.17"/><circle cx="467.50" cy="312.50" r="4.17"/><circle cx="429.50" cy="337.50" r="4.17"/><circle cx="459.50" cy="317.50" r="4.17"/><circle cx="488.50" cy="384.50" r="4.17"/><circle cx="494.50" cy="392.50" r="4.17"/><circle cx="431.50" cy="412.50" r="4.17"/><circle cx="358.50" cy="352.50" r="4.17"/><circle cx="419.50" cy="331.50" r="4.17"/><circle cx="468.50" cy="294.50" r="4.17"/><circle cx="414.50" cy="341.50" r="4.17"/><circle cx="401.50" cy="339.50" r="4.17"/><circle cx="505.50" cy="387.50" r="4.17"/><circle cx="464.50" cy="310.50" r="4.17"/><circle cx="370.50" cy="343.50" r="4.17"/><circle cx="467.50" cy="402.50" r="4.17"/><circle cx="373.50" cy="396.50" r="4.17"/><circle cx="535.50" cy="365.50" r="4.17"/><circle cx="406.50" cy="349.50" r="4.17"/><circle cx="442.50" cy="329.50" r="4.17"/><circle cx="412.50" cy="420.50" r="4.17"/><circle cx="378.50" cy="342.50" r="4.17"/><circle cx="427.50" cy="327.50" r="4.17"/><circle cx="523.50" cy="370.50" r="4.17"/><circle cx="407.50" cy="422.50" r="4.17"/><circle cx="357.50" cy="401.50" r="4.17"/><circle cx="433.50" cy="335.50" r="4.17"/><circle cx="458.50" cy="407.50" r="4.17"/><circle cx="479.50" cy="392.50" r="4.17"/><circle cx="460.50" cy="312.50" r="4.17"/><circle cx="489.50" cy="289.50" r="4.17"/><circle cx="383.50" cy="334.50" r="4.17"/><circle cx="439.50" cy="414.50" r="4.17"/><circle cx="402.50" cy="331.50" r="4.17"/><circle cx="403.50" cy="326.50" r="4.17"/><circle cx="496.50" cy="389.50" r="4.17"/><circle cx="373.50" cy="344.50" r="4.17"/><circle cx="372.50" cy="354.50" r="4.17"/><circle cx="361.50" cy="425.50" r="4.17"/><circle cx="362.50" cy="417.50" r="4.17"/><circle cx="397.50" cy="420.50" r="4.17"/><circle cx="465.50" cy="298.50" r="4.17"/><circle cx="378.50" cy="340.50" r="4.17"/><circle cx="442.50" cy="330.50" r="4.17"/><circle cx="527.50" cy="371.50" r="4.17"/><circle cx="415.50" cy="339.50" r="4.17"/><circle cx="383.50" cy="337.50" r="4.17"/><circle cx="376.50" cy="419.50" r="4.17"/><circle cx="446.50" cy="321.50" r="4.17"/><circle cx="396.50" cy="340.50" r="4.17"/><circle cx="516.50" cy="374.50" r="4.17"/><circle cx="451.50" cy="324.50" r="4.17"/><circle cx="474.50" cy="399.50" r="4.17"/><circle cx="407.50" cy="344.50" r="4.17"/><circle cx="468.50" cy="306.50" r="4.17"/><circle cx="389.50" cy="335.50" r="4.17"/><circle cx="414.50" cy="331.50" r="4.17"/><circle cx="451.50" cy="400.50" r="4.17"/><circle cx="470.50" cy="290.50" r="4.17"/><circle cx="321.50" cy="403.50" r="4.17"/><circle cx="478.50" cy="309.50" r="4.17"/><circle cx="427.50" cy="339.50" r="4.17"/><circle cx="469.50" cy="390.50" r="4.17"/><circle cx="452.50" cy="389.50" r="4.17"/><circle cx="469.50" cy="295.50" r="4.17"/><circle cx="343.50" cy="415.50" r="4.17"/><circle cx="437.50" cy="397.50" r="4.17"/><circle cx="388.50" cy="396.50" r="4.17"/><circle cx="529.50" cy="369.50" r="4.17"/><circle cx="364.50" cy="345.50" r="4.17"/><circle cx="343.50" cy="423.50" r="4.17"/><circle cx="371.50" cy="349.50" r="4.17"/><circle cx="488.50" cy="294.50" r="4.17"/><circle cx="434.50" cy="399.50" r="4.17"/><circle cx="428.50" cy="338.50" r="4.17"/><circle cx="469.50" cy="308.50" r="4.17"/><circle cx="423.50" cy="342.50" r="4.17"/><circle cx="359.50" cy="355.50" r="4.17"/><circle cx="463.50" cy="401.50" r="4.17"/><circle cx="492.50" cy="295.50" r="4.17"/><circle cx="475.50" cy="403.50" r="4.17"/><circle cx="377.50" cy="415.50" r="4.17"/><circle cx="336.50" cy="406.50" r="4.17"/><circle cx="460.50" cy="317.50" r="4.17"/><circle cx="466.50" cy="315.50" r="4.17"/><circle cx="426.50" cy="337.50" r="4.17"/><circle cx="409.50" cy="326.50" r="4.17"/><circle cx="388.50" cy="332.50" r="4.17"/><circle cx="458.50" cy="402.50" r="4.17"/><circle cx="505.50" cy="389.50" r="4.17"/><circle cx="482.50" cy="305.50" r="4.17"/><circle cx="465.50" cy="392.50" r="4.17"/></g>
<g fill="rgb(125,255,122)" stroke="#000" stroke-width="0.750"><circle cx="306.50" cy="390.50" r="4.17"/><circle cx="224.50" cy="388.50" r="4.17"/><circle cx="240.50" cy="385.50" r="4.17"/><circle cx="243.50" cy="305.50" r="4.17"/><circle cx="271.50" cy="382.50" r="4.17"/><circle cx="215.50" cy="336.50" r="4.17"/><circle cx="309.50" cy="379.50" r="4.17"/><circle cx="246.50" cy="392.50" r="4.17"/><circle cx="272.50" cy="400.50" r="4.17"/><circle cx="240.50" cy="375.50" r="4.17"/><circle cx="272.50" cy="348.50" r="4.17"/><circle cx="304.50" cy="402.50" r="4.17"/><circle cx="241.50" cy="306.50" r="4.17"/><circle cx="207.50" cy="377.50" r="4.17"/><circle cx="332.50" cy="392.50" r="4.17"/><circle cx="242.50" cy="312.50" r="4.17"/><circle cx="192.50" cy="356.50" r="4.17"/><circle cx="178.50" cy="319.50" r="4.17"/><circle cx="333.50" cy="384.50" r="4.17"/><circle cx="244.50" cy="364.50" r="4.17"/><circle cx="188.50" cy="339.50" r="4.17"/><circle cx="330.50" cy="387.50" r="4.17"/><circle cx="195.50" cy="314.50" r="4.17"/><circle cx="288.50" cy="389.50" r="4.17"/><circle cx="250.50" cy="395.50" r="4.17"/><circle cx="261.50" cy="397.50" r="4.17"/><circle cx="281.50" cy="378.50" r="4.17"/><circle cx="232.50" cy="371.50" r="4.17"/><circle cx="315.50" cy="390.50" r="4.17"/><circle cx="269.50" cy="364.50" r="4.17"/><circle cx="193.50" cy="333.50" r="4.17"/><circle cx="253.50" cy="332.50" r="4.17"/><circle cx="351.50" cy="388.50" r="4.17"/><circle cx="307.50" cy="365.50" r="4.17"/><circle cx="260.50" cy="366.50" r="4.17"/><circle cx="288.50" cy="373.50" r="4.17"/><circle cx="275.50" cy="394.50" r="4.17"/><circle cx="255.50" cy="356.50" r="4.17"/><circle cx="206.50" cy="322.50" r="4.17"/><circle cx="329.50" cy="387.50" r="4.17"/><circle cx="215.50" cy="336.50" r="4.17"/><circle cx="319.50" cy="392.50" r="4.17"/><circle cx="288.50" cy="374.50" r="4.17"/><circle cx="230.50" cy="389.50" r="4.17"/><circle cx="327.50" cy="384.50" r="4.17"/><circle cx="241.50" cy="376.50" r="4.17"/><circle cx="259.50" cy="345.50" r="4.17"/><circle cx="246.50" cy="370.50" r="4.17"/><circle cx="180.50" cy="333.50" r="4.17"/><circle cx="261.50" cy="371.50" r="4.17"/><circle cx="284.50" cy="354.50" r="4.17"/><circle cx="247.50" cy="383.50" r="4.17"/><circle cx="262.50" cy="390.50" r="4.17"/><circle cx="262.50" cy="378.50" r="4.17"/><circle cx="254.50" cy="331.50" r="4.17"/><circle cx="255.50" cy="324.50" r="4.17"/><circle cx="256.50" cy="346.50" r="4.17"/><circle cx="251.50" cy="344.50" r="4.17"/><circle cx="193.50" cy="356.50" r="4.17"/><circle cx="228.50" cy="360.50" r="4.17"/><circle cx="240.50" cy="369.50" r="4.17"/><circle cx="299.50" cy="390.50" r="4.17"/><circle cx="268.50" cy="351.50" r="4.17"/><circle cx="259.50" cy="336.50" r="4.17"/><circle cx="246.50" cy="339.50" r="4.17"/><circle cx="307.50" cy="375.50" r="4.17"/><circle cx="284.50" cy="362.50" r="4.17"/><circle cx="261.50" cy="346.50" r="4.17"/><circle cx="201.50" cy="349.50" r="4.17"/><circle cx="264.50" cy="368.50" r="4.17"/><circle cx="304.50" cy="401.50" r="4.17"/><circle cx="270.50" cy="358.50" r="4.17"/><circle cx="274.50" cy="376.50" r="4.17"/><circle cx="370.50" cy="389.50" r="4.17"/><circle cx="286.50" cy="363.50" r="4.17"/><circle cx="263.50" cy="343.50" r="4.17"/><circle cx="240.50" cy="387.50" r="4.17"/><circle cx="215.50" cy="357.50" r="4.17"/><circle cx="348.50" cy="390.50" r="4.17"/><circle cx="228.50" cy="365.50" r="4.17"/><circle cx="211.50" cy="378.50" r="4.17"/><circle cx="256.50" cy="364.50" r="4.17"/><circle cx="226.50" cy="376.50" r="4.17"/><circle cx="290.50" cy="360.50" r="4.17"/><circle cx="313.50" cy="384.50" r="4.17"/><circle cx="315.50" cy="378.50" r="4.17"/><circle cx="232.50" cy="383.50" r="4.17"/><circle cx="254.50" cy="357.50" r="4.17"/><circle cx="316.50" cy="389.50" r="4.17"/><circle cx="267.50" cy="345.50" r="4.17"/><circle cx="245.50" cy="301.50" r="4.17"/><circle cx="241.50" cy="302.50" r="4.17"/><circle cx="261.50" cy="366.50" r="4.17"/><circle cx="311.50" cy="383.50" r="4.17"/><circle cx="246.50" cy="320.50" r="4.17"/><circle cx="252.50" cy="370.50" r="4.17"/><circle cx="279.50" cy="373.50" r="4.17"/><circle cx="319.50" cy="399.50" r="4.17"/><circle cx="244.50" cy="349.50" r="4.17"/><circle cx="320.50" cy="379.50" r="4.17"/><circle cx="203.50" cy="336.50" r="4.17"/><circle cx="331.50" cy="384.50" r="4.17"/><circle cx="263.50" cy="390.50" r="4.17"/><circle cx="348.50" cy="385.50" r="4.17"/><circle cx="330.50" cy="383.50" r="4.17"/><circle cx="242.50" cy="383.50" r="4.17"/><circle cx="238.50" cy="354.50" r="4.17"/><circle cx="251.50" cy="386.50" r="4.17"/><circle cx="278.50" cy="351.50" r="4.17"/><circle cx="249.50" cy="386.50" r="4.17"/><circle cx="293.50" cy="373.50" r="4.17"/><circle cx="202.50" cy="329.50" r="4.17"/><circle cx="364.50" cy="390.50" r="4.17"/><circle cx="303.50" cy="382.50" r="4.17"/><circle cx="320.50" cy="391.50" r="4.17"/><circle cx="270.50" cy="347.50" r="4.17"/><circle cx="264.50" cy="348.50" r="4.17"/><circle cx="235.50" cy="343.50" r="4.17"/><circle cx="263.50" cy="376.50" r="4.17"/><circle cx="224.50" cy="342.50" r="4.17"/><circle cx="176.50" cy="327.50" r="4.17"/><circle cx="242.50" cy="347.50" r="4.17"/><circle cx="252.50" cy="320.50" r="4.17"/><circle cx="279.50" cy="349.50" r="4.17"/><circle cx="222.50" cy="378.50" r="4.17"/><circle cx="381.50" cy="389.50" r="4.17"/><circle cx="276.50" cy="350.50" r="4.17"/><circle cx="252.50" cy="393.50" r="4.17"/><circle cx="290.50" cy="380.50" r="4.17"/><circle cx="251.50" cy="364.50" r="4.17"/><circle cx="279.50" cy="388.50" r="4.17"/><circle cx="208.50" cy="318.50" r="4.17"/><circle cx="224.50" cy="339.50" r="4.17"/><circle cx="267.50" cy="338.50" r="4.17"/><circle cx="220.50" cy="369.50" r="4.17"/><circle cx="202.50" cy="337.50" r="4.17"/><circle cx="226.50" cy="385.50" r="4.17"/><circle cx="280.50" cy="373.50" r="4.17"/><circle cx="269.50" cy="359.50" r="4.17"/><circle cx="196.50" cy="360.50" r="4.17"/><circle cx="313.50" cy="385.50" r="4.17"/><circle cx="245.50" cy="321.50" r="4.17"/><circle cx="329.50" cy="378.50" r="4.17"/><circle cx="274.50" cy="377.50" r="4.17"/><circle cx="278.50" cy="362.50" r="4.17"/><circle cx="251.50" cy="320.50" r="4.17"/><circle cx="261.50" cy="346.50" r="4.17"/><circle cx="210.50" cy="373.50" r="4.17"/><circle cx="209.50" cy="335.50" r="4.17"/><circle cx="275.50" cy="360.50" r="4.17"/><circle cx="212.50" cy="339.50" r="4.17"/><circle cx="248.50" cy="378.50" r="4.17"/><circle cx="246.50" cy="383.50" r="4.17"/><circle cx="296.50" cy="398.50" r="4.17"/><circle cx="199.50" cy="337.50" r="4.17"/><circle cx="275.50" cy="403.50" r="4.17"/><circle cx="246.50" cy="329.50" r="4.17"/><circle cx="328.50" cy="379.50" r="4.17"/><circle cx="249.50" cy="368.50" r="4.17"/><circle cx="230.50" cy="385.50" r="4.17"/><circle cx="216.50" cy="369.50" r="4.17"/><circle cx="364.50" cy="392.50" r="4.17"/><circle cx="214.50" cy="367.50" r="4.17"/></g>
<g fill="rgb(255,230,0)" stroke="#000" stroke-width="0.750"><circle cx="570.50" cy="321.50" r="4.17"/><circle cx="572.50" cy="337.50" r="4.17"/><circle cx="568.50" cy="333.50" r="4.17"/><circle cx="563.50" cy="316.50" r="4.17"/><circle cx="588.50" cy="284.50" r="4.17"/><circle cx="564.50" cy="305.50" r="4.17"/><circle cx="575.50" cy="335.50" r="4.17"/><circle cx="548.50" cy="349.50" r="4.17"/><circle cx="558.50" cy="331.50" r="4.17"/><circle cx="542.50" cy="354.50" r="4.17"/><circle cx="601.50" cy="291.50" r="4.17"/><circle cx="578.50" cy="313.50" r="4.17"/><circle cx="555.50" cy="353.50" r="4.17"/><circle cx="559.50" cy="323.50" r="4.17"/><circle cx="585.50" cy="293.50" r="4.17"/><circle cx="567.50" cy="304.50" r="4.17"/><circle cx="574.50" cy="321.50" r="4.17"/><circle cx="576.50" cy="328.50" r="4.17"/><circle cx="570.50" cy="340.50" r="4.17"/><circle cx="548.50" cy="355.50" r="4.17"/><circle cx="580.50" cy="311.50" r="4.17"/><circle cx="543.50" cy="358.50" r="4.17"/><circle cx="552.50" cy="355.50" r="4.17"/><circle cx="597.50" cy="302.50" r="4.17"/><circle cx="539.50" cy="357.50" r="4.17"/><circle cx="568.50" cy="339.50" r="4.17"/><circle cx="532.50" cy="369.50" r="4.17"/><circle cx="540.50" cy="364.50" r="4.17"/><circle cx="556.50" cy="345.50" r="4.17"/><circle cx="559.50" cy="348.50" r="4.17"/><circle cx="560.50" cy="317.50" r="4.17"/><circle cx="542.50" cy="363.50" r="4.17"/><circle cx="539.50" cy="361.50" r="4.17"/><circle cx="572.50" cy="337.50" r="4.17"/><circle cx="539.50" cy="365.50" r="4.17"/><circle cx="583.50" cy="320.50" r="4.17"/><circle cx="560.50" cy="336.50" r="4.17"/><circle cx="591.50" cy="295.50" r="4.17"/><circle cx="593.50" cy="304.50" r="4.17"/><circle cx="567.50" cy="326.50" r="4.17"/><circle cx="559.50" cy="342.50" r="4.17"/><circle cx="572.50" cy="334.50" r="4.17"/><circle cx="535.50" cy="365.50" r="4.17"/><circle cx="567.50" cy="327.50" r="4.17"/><circle cx="577.50" cy="329.50" r="4.17"/><circle cx="577.50" cy="328.50" r="4.17"/><circle cx="601.50" cy="285.50" r="4.17"/><circle cx="532.50" cy="369.50" r="4.17"/><circle cx="554.50" cy="345.50" r="4.17"/><circle cx="595.50" cy="304.50" r="4.17"/><circle cx="581.50" cy="324.50" r="4.17"/><circle cx="562.50" cy="313.50" r="4.17"/><circle cx="559.50" cy="350.50" r="4.17"/><circle cx="562.50" cy="325.50" r="4.17"/><circle cx="531.50" cy="371.50" r="4.17"/><circle cx="535.50" cy="365.50" r="4.17"/><circle cx="533.50" cy="368.50" r="4.17"/><circle cx="559.50" cy="345.50" r="4.17"/><circle cx="576.50" cy="315.50" r="4.17"/><circle cx="571.50" cy="333.50" r="4.17"/><circle cx="584.50" cy="306.50" r="4.17"/><circle cx="560.50" cy="321.50" r="4.17"/><circle cx="585.50" cy="315.50" r="4.17"/><circle cx="523.50" cy="377.50" r="4.17"/><circle cx="592.50" cy="291.50" r="4.17"/><circle cx="523.50" cy="375.50" r="4.17"/><circle cx="551.50" cy="355.50" r="4.17"/><circle cx="576.50" cy="292.50" r="4.17"/><circle cx="566.50" cy="344.50" r="4.17"/><circle cx="543.50" cy="362.50" r="4.17"/><circle cx="597.50" cy="304.50" r="4.17"/><circle cx="583.50" cy="287.50" r="4.17"/><circle cx="530.50" cy="370.50" r="4.17"/><circle cx="567.50" cy="337.50" r="4.17"/><circle cx="586.50" cy="317.50" r="4.17"/><circle cx="575.50" cy="317.50" r="4.17"/><circle cx="569.50" cy="339.50" r="4.17"/><circle cx="569.50" cy="322.50" r="4.17"/><circle cx="557.50" cy="342.50" r="4.17"/><circle cx="583.50" cy="317.50" r="4.17"/><circle cx="577.50" cy="335.50" r="4.17"/><circle cx="565.50" cy="327.50" r="4.17"/><circle cx="588.50" cy="315.50" r="4.17"/><circle cx="585.50" cy="315.50" r="4.17"/><circle cx="571.50" cy="320.50" r="4.17"/><circle cx="567.50" cy="330.50" r="4.17"/><circle cx="560.50" cy="348.50" r="4.17"/><circle cx="579.50" cy="313.50" r="4.17"/><circle cx="576.50" cy="295.50" r="4.17"/><circle cx="595.50" cy="299.50" r="4.17"/><circle cx="529.50" cy="371.50" r="4.17"/><circle cx="520.50" cy="377.50" r="4.17"/><circle cx="567.50" cy="331.50" r="4.17"/><circle cx="578.50" cy="329.50" r="4.17"/><circle cx="580.50" cy="313.50" r="4.17"/><circle cx="554.50" cy="350.50" r="4.17"/><circle cx="577.50" cy="334.50" r="4.17"/><circle cx="543.50" cy="360.50" r="4.17"/><circle cx="597.50" cy="292.50" r="4.17"/><circle cx="553.50" cy="354.50" r="4.17"/><circle cx="574.50" cy="309.50" r="4.17"/><circle cx="569.50" cy="340.50" r="4.17"/><circle cx="561.50" cy="338.50" r="4.17"/><circle cx="574.50" cy="306.50" r="4.17"/><circle cx="578.50" cy="325.50" r="4.17"/><circle cx="539.50" cy="362.50" r="4.17"/><circle cx="559.50" cy="338.50" r="4.17"/><circle cx="550.50" cy="347.50" r="4.17"/><circle cx="599.50" cy="295.50" r="4.17"/><circle cx="570.50" cy="292.50" r="4.17"/><circle cx="564.50" cy="332.50" r="4.17"/><circle cx="561.50" cy="304.50" r="4.17"/><circle cx="569.50" cy="335.50" r="4.17"/><circle cx="598.50" cy="301.50" r="4.17"/><circle cx="590.50" cy="287.50" r="4.17"/></g>
<g fill="rgb(255,71,0)" stroke="#000" stroke-width="0.750"><circle cx="489.50" cy="153.50" r="4.17"/><circle cx="399.50" cy="143.50" r="4.17"/><circle cx="422.50" cy="240.50" r="4.17"/><circle cx="459.50" cy="163.50" r="4.17"/><circle cx="368.50" cy="142.50" r="4.17"/><circle cx="443.50" cy="141.50" r="4.17"/><circle cx="347.50" cy="211.50" r="4.17"/><circle cx="436.50" cy="234.50" r="4.17"/><circle cx="433.50" cy="210.50" r="4.17"/><circle cx="400.50" cy="211.50" r="4.17"/><circle cx="427.50" cy="221.50" r="4.17"/><circle cx="467.50" cy="143.50" r="4.17"/><circle cx="427.50" cy="236.50" r="4.17"/><circle cx="470.50" cy="158.50" r="4.17"/><circle cx="420.50" cy="212.50" r="4.17"/><circle cx="489.50" cy="148.50" r="4.17"/><circle cx="382.50" cy="147.50" r="4.17"/><circle cx="429.50" cy="252.50" r="4.17"/><circle cx="347.50" cy="213.50" r="4.17"/><circle cx="424.50" cy="133.50" r="4.17"/><circle cx="467.50" cy="143.50" r="4.17"/><circle cx="395.50" cy="141.50" r="4.17"/><circle cx="439.50" cy="141.50" r="4.17"/><circle cx="399.50" cy="152.50" r="4.17"/><circle cx="395.50" cy="136.50" r="4.17"/><circle cx="486.50" cy="171.50" r="4.17"/><circle cx="438.50" cy="248.50" r="4.17"/><circle cx="396.50" cy="215.50" r="4.17"/><circle cx="434.50" cy="212.50" r="4.17"/><circle cx="435.50" cy="228.50" r="4.17"/><circle cx="433.50" cy="215.50" r="4.17"/><circle cx="484.50" cy="168.50" r="4.17"/><circle cx="388.50" cy="143.50" r="4.17"/><circle cx="480.50" cy="147.50" r="4.17"/><circle cx="418.50" cy="150.50" r="4.17"/><circle cx="400.50" cy="135.50" r="4.17"/><circle cx="350.50" cy="145.50" r="4.17"/><circle cx="399.50" cy="212.50" r="4.17"/><circle cx="418.50" cy="139.50" r="4.17"/><circle cx="393.50" cy="211.50" r="4.17"/><circle cx="364.50" cy="208.50" r="4.17"/><circle cx="489.50" cy="154.50" r="4.17"/><circle cx="416.50" cy="138.50" r="4.17"/><circle cx="431.50" cy="138.50" r="4.17"/><circle cx="337.50" cy="215.50" r="4.17"/><circle cx="386.50" cy="142.50" r="4.17"/><circle cx="361.50" cy="220.50" r="4.17"/><circle cx="391.50" cy="218.50" r="4.17"/><circle cx="401.50" cy="233.50" r="4.17"/><circle cx="458.50" cy="143.50" r="4.17"/><circle cx="451.50" cy="158.50" r="4.17"/><circle cx="391.50" cy="213.50" r="4.17"/><circle cx="476.50" cy="162.50" r="4.17"/><circle cx="434.50" cy="237.50" r="4.17"/><circle cx="423.50" cy="136.50" r="4.17"/><circle cx="381.50" cy="223.50" r="4.17"/><circle cx="396.50" cy="229.50" r="4.17"/><circle cx="420.50" cy="159.50" r="4.17"/><circle cx="399.50" cy="220.50" r="4.17"/><circle cx="376.50" cy="216.50" r="4.17"/><circle cx="399.50" cy="151.50" r="4.17"/><circle cx="480.50" cy="159.50" r="4.17"/><circle cx="464.50" cy="169.50" r="4.17"/><circle cx="452.50" cy="160.50" r="4.17"/><circle cx="349.50" cy="213.50" r="4.17"/><circle cx="413.50" cy="137.50" r="4.17"/><circle cx="389.50" cy="146.50" r="4.17"/><circle cx="405.50" cy="223.50" r="4.17"/><circle cx="387.50" cy="219.50" r="4.17"/><circle cx="461.50" cy="157.50" r="4.17"/><circle cx="482.50" cy="163.50" r="4.17"/><circle cx="420.50" cy="145.50" r="4.17"/><circle cx="432.50" cy="216.50" r="4.17"/><circle cx="440.50" cy="222.50" r="4.17"/><circle cx="401.50" cy="219.50" r="4.17"/><circle cx="428.50" cy="212.50" r="4.17"/><circle cx="409.50" cy="147.50" r="4.17"/><circle cx="370.50" cy="149.50" r="4.17"/><circle cx="418.50" cy="240.50" r="4.17"/><circle cx="488.50" cy="172.50" r="4.17"/><circle cx="390.50" cy="145.50" r="4.17"/><circle cx="406.50" cy="208.50" r="4.17"/><circle cx="419.50" cy="217.50" r="4.17"/><circle cx="469.50" cy="146.50" r="4.17"/><circle cx="372.50" cy="223.50" r="4.17"/><circle cx="484.50" cy="151.50" r="4.17"/><circle cx="398.50" cy="206.50" r="4.17"/><circle cx="433.50" cy="216.50" r="4.17"/><circle cx="405.50" cy="221.50" r="4.17"/><circle cx="426.50" cy="234.50" r="4.17"/><circle cx="354.50" cy="209.50" r="4.17"/><circle cx="425.50" cy="153.50" r="4.17"/><circle cx="422.50" cy="205.50" r="4.17"/><circle cx="350.50" cy="215.50" r="4.17"/><circle cx="382.50" cy="137.50" r="4.17"/><circle cx="398.50" cy="221.50" r="4.17"/><circle cx="422.50" cy="136.50" r="4.17"/><circle cx="431.50" cy="242.50" r="4.17"/><circle cx="380.50" cy="140.50" r="4.17"/><circle cx="396.50" cy="134.50" r="4.17"/><circle cx="420.50" cy="141.50" r="4.17"/><circle cx="396.50" cy="215.50" r="4.17"/><circle cx="420.50" cy="234.50" r="4.17"/><circle cx="475.50" cy="167.50" r="4.17"/><circle cx="396.50" cy="206.50" r="4.17"/><circle cx="423.50" cy="151.50" r="4.17"/><circle cx="421.50" cy="132.50" r="4.17"/><circle cx="434.50" cy="221.50" r="4.17"/><circle cx="414.50" cy="217.50" r="4.17"/><circle cx="411.50" cy="153.50" r="4.17"/><circle cx="454.50" cy="164.50" r="4.17"/><circle cx="422.50" cy="208.50" r="4.17"/><circle cx="487.50" cy="179.50" r="4.17"/><circle cx="462.50" cy="169.50" r="4.17"/><circle cx="368.50" cy="207.50" r="4.17"/><circle cx="448.50" cy="166.50" r="4.17"/><circle cx="353.50" cy="147.50" r="4.17"/><circle cx="438.50" cy="151.50" r="4.17"/><circle cx="372.50" cy="139.50" r="4.17"/><circle cx="408.50" cy="215.50" r="4.17"/><circle cx="470.50" cy="146.50" r="4.17"/><circle cx="471.50" cy="173.50" r="4.17"/><circle cx="405.50" cy="236.50" r="4.17"/><circle cx="418.50" cy="212.50" r="4.17"/><circle cx="378.50" cy="142.50" r="4.17"/><circle cx="371.50" cy="220.50" r="4.17"/><circle cx="341.50" cy="213.50" r="4.17"/><circle cx="390.50" cy="134.50" r="4.17"/><circle cx="456.50" cy="164.50" r="4.17"/><circle cx="397.50" cy="135.50" r="4.17"/><circle cx="366.50" cy="143.50" r="4.17"/><circle cx="396.50" cy="217.50" r="4.17"/><circle cx="427.50" cy="241.50" r="4.17"/><circle cx="357.50" cy="217.50" r="4.17"/><circle cx="393.50" cy="208.50" r="4.17"/><circle cx="442.50" cy="141.50" r="4.17"/><circle cx="435.50" cy="210.50" r="4.17"/><circle cx="420.50" cy="226.50" r="4.17"/><circle cx="372.50" cy="216.50" r="4.17"/><circle cx="364.50" cy="143.50" r="4.17"/><circle cx="378.50" cy="214.50" r="4.17"/><circle cx="467.50" cy="146.50" r="4.17"/><circle cx="454.50" cy="151.50" r="4.17"/><circle cx="380.50" cy="222.50" r="4.17"/><circle cx="373.50" cy="211.50" r="4.17"/><circle cx="407.50" cy="218.50" r="4.17"/><circle cx="483.50" cy="185.50" r="4.17"/><circle cx="421.50" cy="242.50" r="4.17"/><circle cx="365.50" cy="140.50" r="4.17"/><circle cx="422.50" cy="220.50" r="4.17"/><circle cx="374.50" cy="148.50" r="4.17"/><circle cx="362.50" cy="220.50" r="4.17"/><circle cx="367.50" cy="215.50" r="4.17"/><circle cx="407.50" cy="142.50" r="4.17"/><circle cx="474.50" cy="166.50" r="4.17"/><circle cx="437.50" cy="224.50" r="4.17"/><circle cx="470.50" cy="174.50" r="4.17"/><circle cx="485.50" cy="181.50" r="4.17"/><circle cx="407.50" cy="130.50" r="4.17"/><circle cx="373.50" cy="223.50" r="4.17"/><circle cx="362.50" cy="208.50" r="4.17"/><circle cx="376.50" cy="145.50" r="4.17"/><circle cx="389.50" cy="210.50" r="4.17"/><circle cx="475.50" cy="154.50" r="4.17"/><circle cx="422.50" cy="227.50" r="4.17"/><circle cx="380.50" cy="207.50" r="4.17"/><circle cx="437.50" cy="228.50" r="4.17"/><circle cx="409.50" cy="210.50" r="4.17"/><circle cx="368.50" cy="145.50" r="4.17"/><circle cx="474.50" cy="180.50" r="4.17"/><circle cx="379.50" cy="207.50" r="4.17"/><circle cx="398.50" cy="219.50" r="4.17"/><circle cx="376.50" cy="212.50" r="4.17"/><circle cx="434.50" cy="221.50" r="4.17"/><circle cx="488.50" cy="151.50" r="4.17"/><circle cx="476.50" cy="144.50" r="4.17"/><circle cx="425.50" cy="233.50" r="4.17"/><circle cx="412.50" cy="157.50" r="4.17"/><circle cx="481.50" cy="158.50" r="4.17"/><circle cx="409.50" cy="236.50" r="4.17"/></g>
<text x="143.36" y="518.45" text-anchor="middle" textLength="35.17" lengthAdjust="spacingAndGlyphs">−10</text>
<text x="231.53" y="520.67" text-anchor="middle" textLength="24.57" lengthAdjust="spacingAndGlyphs">−5</text>
<text x="320.34" y="522.89" text-anchor="middle" textLength="10.60" lengthAdjust="spacingAndGlyphs">0</text>
<text x="409.79" y="525.14" text-anchor="middle" textLength="10.60" lengthAdjust="spacingAndGlyphs">5</text>
<text x="499.90" y="527.39" text-anchor="middle" textLength="21.21" lengthAdjust="spacingAndGlyphs">10</text>
<text x="590.66" y="529.67" text-anchor="middle" textLength="21.21" lengthAdjust="spacingAndGlyphs">15</text>
<text x="631.71" y="525.43" text-anchor="middle" textLength="24.57" lengthAdjust="spacingAndGlyphs">−2</text>
<text x="639.65" y="516.44" text-anchor="middle" textLength="10.60" lengthAdjust="spacingAndGlyphs">0</text>
<text x="647.37" y="507.70" text-anchor="middle" textLength="10.60" lengthAdjust="spacingAndGlyphs">2</text>
<text x="654.87" y="499.20" text-anchor="middle" textLength="10.60" lengthAdjust="spacingAndGlyphs">4</text>
<text x="662.16" y="490.95" text-anchor="middle" textLength="10.60" lengthAdjust="spacingAndGlyphs">6</text>
<text x="669.25" y="482.92" text-anchor="middle" textLength="10.60" lengthAdjust="spacingAndGlyphs">8</text>
<text x="676.14" y="475.11" text-anchor="middle" textLength="21.21" lengthAdjust="spacingAndGlyphs">10</text>
<text x="682.86" y="467.50" text-anchor="middle" textLength="21.21" lengthAdjust="spacingAndGlyphs">12</text>
<text x="686.79" y="439.02" text-anchor="middle" textLength="35.17" lengthAdjust="spacingAndGlyphs">−15</text>
<text x="687.33" y="388.22" text-anchor="middle" textLength="35.17" lengthAdjust="spacingAndGlyphs">−10</text>
<text x="687.86" y="337.23" text-anchor="middle" textLength="24.57" lengthAdjust="spacingAndGlyphs">−5</text>
<text x="688.40" y="286.04" text-anchor="middle" textLength="10.60" lengthAdjust="spacingAndGlyphs">0</text>
<text x="688.94" y="234.64" text-anchor="middle" textLength="10.60" lengthAdjust="spacingAndGlyphs">5</text>
<text x="689.48" y="183.05" text-anchor="middle" textLength="21.21" lengthAdjust="spacingAndGlyphs">10</text>
<text x="690.03" y="131.26" text-anchor="middle" textLength="21.21" lengthAdjust="spacingAndGlyphs">15</text>
<text x="400" y="41" text-anchor="middle" font-size="21" textLength="452.8" lengthAdjust="spacingAndGlyphs">Without connectivity constraints (time 1.89s)</text></svg>
</body></html>
